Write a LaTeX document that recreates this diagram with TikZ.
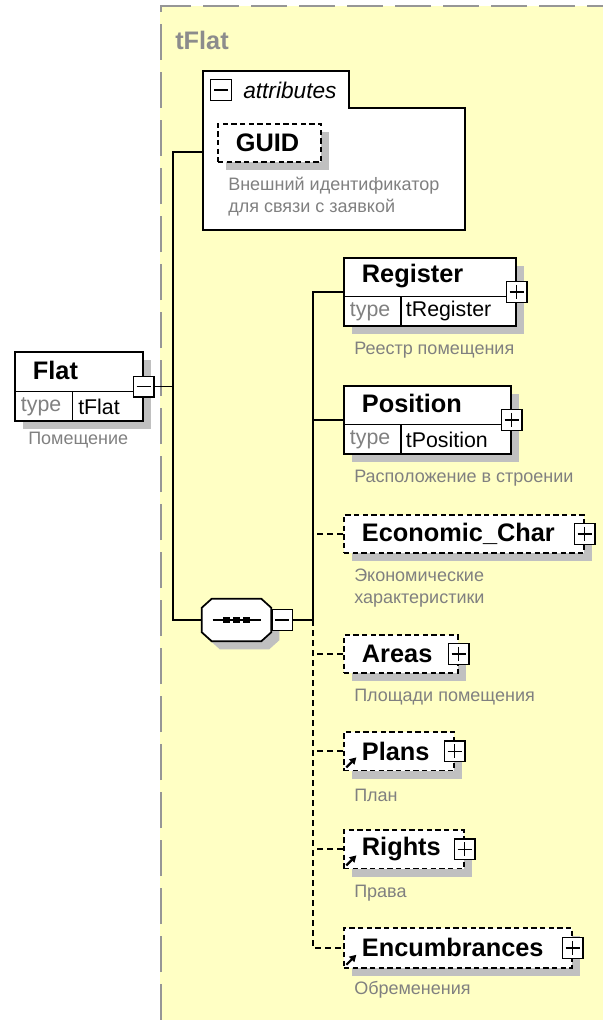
\documentclass[tikz,border=0pt]{standalone}
\usepackage{fontspec}
\setmainfont{Liberation Sans}
\usepackage{tikz}
\usetikzlibrary{
  arrows.meta,
  positioning,
  shadows
}
\definecolor{typeyellow}{RGB}{255, 255, 196}
\definecolor{framegray}{RGB}{150, 150, 150}
\definecolor{titlegray}{RGB}{140, 140, 140}
\definecolor{docgray}{RGB}{128, 128, 128}
\definecolor{shadegray}{RGB}{192, 192, 192}

\begin{document}
\begin{tikzpicture}[x=0.75pt, y=-0.75pt,
  elembox/.style={rectangle, draw, fill=white, line width=1.3pt, anchor=north west, inner sep=0pt,
    drop shadow={opacity=1, fill=shadegray, shadow xshift=6pt, shadow yshift=-6pt}},
  optbox/.style={elembox, dash pattern=on 4pt off 2.5pt},
  namelbl/.style={anchor=west, inner sep=0pt, font=\fontsize{19}{22}\selectfont\bfseries},
  typekey/.style={anchor=west, inner sep=0pt, text=docgray, font=\fontsize{16}{18}\selectfont},
  typeval/.style={anchor=west, inner sep=0pt, font=\fontsize{16}{18}\selectfont},
  doclbl/.style={anchor=west, inner sep=0pt, align=left, text=docgray, font=\fontsize{13.5}{16.5}\selectfont},
  typetitle/.style={anchor=west, inner sep=0pt, text=titlegray, font=\fontsize{19}{22}\selectfont\bfseries},
  cell/.style={line width=0.8pt},
  conn/.style={line width=1.3pt},
  optconn/.style={conn, dash pattern=on 4.5pt off 3pt},
  togglemin/.style={rectangle, draw, fill=white, line width=1pt, minimum size=15.5pt, inner sep=0pt,
    path picture={\draw[line width=1pt] ([xshift=2.5pt]path picture bounding box.west) -- ([xshift=-2.5pt]path picture bounding box.east);}},
  toggleplus/.style={rectangle, draw, fill=white, line width=1pt, minimum size=15.5pt, inner sep=0pt,
    path picture={\draw[line width=1pt] ([xshift=2.5pt]path picture bounding box.west) -- ([xshift=-2.5pt]path picture bounding box.east);
      \draw[line width=1pt] ([yshift=-2.5pt]path picture bounding box.north) -- ([yshift=2.5pt]path picture bounding box.south);}},
  seqbox/.style={rectangle, minimum width=51.75pt, minimum height=31.5pt, inner sep=0pt},
  seqdot/.style={rectangle, fill, minimum size=5pt, inner sep=0pt},
  refarrow/.style={line width=1.6pt, -{Triangle[length=5pt, width=5.5pt]}}
]
  \useasboundingbox (0,0) rectangle (603,1020);
  % complex type tFlat
  \fill[typeyellow] (160,6) rectangle (603,1020);
  \draw[framegray, line width=1.5pt, dash pattern=on 27pt off 9pt] (161,1020) -- (161,6) -- (603,6);
  \node[typetitle] (ctitle) at (175,40) {tFlat};
  % attributes
  \draw[line width=1.3pt, fill=white] (203,71) -- (349,71) -- (349,108) -- (465,108) -- (465,230) -- (203,230) -- cycle;
  \coordinate (attrjoin) at (203,152);
  \node[togglemin] (attrtoggle) at (221,90) {};
  \node[anchor=west, inner sep=0pt, font=\fontsize{17}{20}\selectfont\itshape] (attrname) at (243,90) {attributes};
  \node[optbox, minimum width=77.25pt, minimum height=28.5pt] (guid) at (217,123) {};
  \node[namelbl] (guidname) at ([xshift=14pt]guid.west) {GUID};
  \node[doclbl] (guiddoc) at (228,197) {Внешний идентификатор\\для связи с заявкой};
  % root element Flat
  \node[elembox, minimum width=96pt, minimum height=52pt] (flat) at (14,351) {};
  \draw[cell] ([yshift=23pt]flat.south west) -- ([yshift=23pt]flat.south east);
  \draw[cell] ([xshift=44pt, yshift=23pt]flat.south west) -- ([xshift=44pt]flat.south west);
  \node[namelbl] (flatname) at ([xshift=14pt, yshift=-14.5pt]flat.north west) {Flat};
  \node[typekey] at ([xshift=5pt, yshift=11.5pt]flat.south west) {type};
  \node[typeval] at ([xshift=48pt, yshift=11.5pt]flat.south west) {tFlat};
  \node[togglemin] (flattoggle) at (flat.east) {};
  \node[doclbl] (flatdoc) at (28,440) {Помещение};
  % sequence
  \node[seqbox] (seq) at (236.5,620) {};
  \draw[conn, fill=white, drop shadow={opacity=1, fill=shadegray, shadow xshift=6pt, shadow yshift=-6pt}]
    ([xshift=7.5pt]seq.north west) -- ([xshift=-7.5pt]seq.north east) -- ([yshift=-6.75pt]seq.north east)
    -- ([yshift=6.75pt]seq.south east) -- ([xshift=-7.5pt]seq.south east) -- ([xshift=7.5pt]seq.south west)
    -- ([yshift=6.75pt]seq.south west) -- ([yshift=-6.75pt]seq.north west) -- cycle;
  \draw[conn] ([xshift=-18pt]seq.center) -- ([xshift=18pt]seq.center);
  \foreach \dx in {-7.5,0,7.5}
    \node[seqdot] at ([xshift=\dx pt]seq.center) {};
  \node[togglemin, anchor=west] (seqtoggle) at (seq.east) {};
  \coordinate (rootbus) at (173,620);
  \coordinate (childbus) at (313,620);
  \draw[conn] (attrjoin) -| (rootbus) -- (seq.west);
  \draw[conn] (flattoggle.east) -- (flattoggle.east -| rootbus);
  \draw[conn] (seqtoggle.east) -- (childbus);
  % Register
  \node[elembox, minimum width=129pt, minimum height=51pt] (register) at (343,257) {};
  \draw[cell] ([yshift=23pt]register.south west) -- ([yshift=23pt]register.south east);
  \draw[cell] ([xshift=43.5pt, yshift=23pt]register.south west) -- ([xshift=43.5pt]register.south west);
  \node[namelbl] (registername) at ([xshift=14pt, yshift=-14pt]register.north west) {Register};
  \node[typekey] at ([xshift=5pt, yshift=11.5pt]register.south west) {type};
  \node[typeval] at ([xshift=47pt, yshift=11.5pt]register.south west) {tRegister};
  \node[toggleplus] (registertoggle) at (register.east) {};
  \node[doclbl] (registerdoc) at (354,350) {Реестр помещения};
  % Position
  \node[elembox, minimum width=125.25pt, minimum height=51pt] (position) at (343,385) {};
  \draw[cell] ([yshift=23pt]position.south west) -- ([yshift=23pt]position.south east);
  \draw[cell] ([xshift=43.5pt, yshift=23pt]position.south west) -- ([xshift=43.5pt]position.south west);
  \node[namelbl] (positionname) at ([xshift=14pt, yshift=-14pt]position.north west) {Position};
  \node[typekey] at ([xshift=5pt, yshift=11.5pt]position.south west) {type};
  \node[typeval] at ([xshift=47pt, yshift=11.5pt]position.south west) {tPosition};
  \node[toggleplus] (positiontoggle) at (position.east) {};
  \node[doclbl] (positiondoc) at (354,478) {Расположение в строении};
  % Economic_Char
  \node[optbox, minimum width=180pt, minimum height=28.5pt] (economic) at (343,514) {};
  \node[namelbl] (economicname) at ([xshift=14pt]economic.west) {Economic\_Char};
  \node[toggleplus] (economictoggle) at (economic.east) {};
  \node[doclbl] (economicdoc) at (354,588) {Экономические\\характеристики};
  % Areas
  \node[optbox, minimum width=85.5pt, minimum height=28.5pt] (areas) at (343,634) {};
  \node[namelbl] (areasname) at ([xshift=14pt]areas.west) {Areas};
  \node[toggleplus] (areastoggle) at (areas.east) {};
  \node[doclbl] (areasdoc) at (354,697) {Площади помещения};
  % Plans
  \node[optbox, minimum width=82.5pt, minimum height=29pt] (plans) at (343,731) {};
  \node[namelbl] (plansname) at ([xshift=14pt]plans.west) {Plans};
  \draw[refarrow] ([xshift=2.5pt, yshift=3pt]plans.south west) -- +(7.5pt,7.5pt);
  \node[toggleplus] (planstoggle) at (plans.east) {};
  \node[doclbl] (plansdoc) at (354,795) {План};
  % Rights
  \node[optbox, minimum width=90pt, minimum height=29pt] (rights) at (343,829) {};
  \node[namelbl] (rightsname) at ([xshift=14pt]rights.west) {Rights};
  \draw[refarrow] ([xshift=2.5pt, yshift=3pt]rights.south west) -- +(7.5pt,7.5pt);
  \node[toggleplus] (rightstoggle) at (rights.east) {};
  \node[doclbl] (rightsdoc) at (354,893) {Права};
  % Encumbrances
  \node[optbox, minimum width=171pt, minimum height=30pt] (encumbrances) at (343,927) {};
  \node[namelbl] (encumbrancesname) at ([xshift=14pt]encumbrances.west) {Encumbrances};
  \draw[refarrow] ([xshift=2.5pt, yshift=3pt]encumbrances.south west) -- +(7.5pt,7.5pt);
  \node[toggleplus] (encumbrancestoggle) at (encumbrances.east) {};
  \node[doclbl] (encumbrancesdoc) at (354,990) {Обременения};
  % children connectors
  \draw[conn] (register.west) -| (childbus);
  \draw[conn] (position.west) -- (position.west -| childbus);
  \foreach \c in {economic,areas,plans,rights}
    \draw[optconn] (\c.west) -- (\c.west -| childbus);
  \draw[optconn] (childbus) |- (encumbrances.west);
\end{tikzpicture}
\end{document}
